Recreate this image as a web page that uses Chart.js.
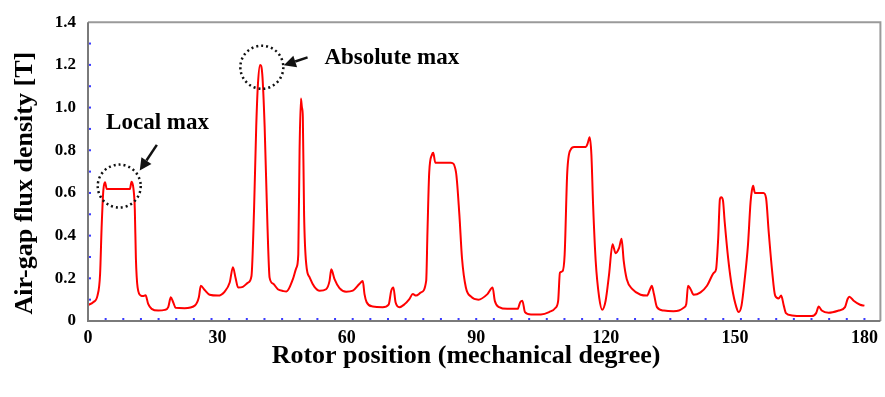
<!DOCTYPE html>
<html><head><meta charset="utf-8">
<script src="https://cdn.jsdelivr.net/npm/chart.js@4/dist/chart.umd.min.js"></script>
<style>html,body{margin:0;padding:0;background:#fff}#wrap{width:885px;height:397px;position:relative}</style>
</head><body><div id="wrap"><canvas id="c"></canvas></div>
<script>
// Rotor position (mechanical degree)
const positions = [0,1.2,2.2,2.8,3.15,3.55,3.95,4.35,9.7,10.1,10.55,10.85,11.1,11.5,12.25,12.8,13.35,13.95,14.75,16.3,17.8,18.6,19.2,19.75,20.3,22.4,24.75,25.7,26.15,27.05,28.2,30.15,31.7,32.85,33.6,34.2,34.8,35.9,37.1,37.9,38.5,39.0,39.4,39.9,40.4,40.95,41.6,42.1,42.9,44.0,45.3,46.0,47.5,48.3,48.75,49.05,49.35,49.6,49.8,50.1,50.6,51.4,52.5,53.7,55.2,56.0,56.4,57.15,58.3,59.85,61.4,62.9,63.7,64.1,64.6,66.0,68.3,69.7,70.3,70.8,71.3,72.2,73.3,74.5,75.3,76.05,77.2,78.4,78.7,79.1,79.75,80.05,80.5,84.15,85.3,86.1,86.7,87.6,88.8,90.5,92.6,93.8,94.3,95.3,97.2,99.6,100.2,100.7,101.3,102.7,105.0,106.9,108.4,109.0,109.4,110.0,110.5,111.1,111.9,112.7,115.4,115.8,116.3,116.7,117.1,117.7,118.5,119.2,120.0,120.8,121.6,122.3,123.1,123.7,124.2,124.9,126.2,128.1,129.6,130.3,130.7,131.2,131.9,133.5,135.7,137.0,138.1,138.7,139.1,139.7,140.4,142.0,143.5,145.1,145.6,146.1,146.5,146.8,147.2,147.6,148.4,149.3,150.3,150.85,151.5,152.2,153.0,153.6,153.9,154.2,154.6,156.6,157.2,157.8,158.6,159.3,160.1,160.7,161.3,161.8,163.2,165.5,167.8,168.8,169.4,170.1,171.7,174.0,175.5,176.1,176.5,177.5,179.0,180.0];
// Air-gap flux density [T]
const fluxDensity = [0.075,0.088,0.119,0.219,0.434,0.611,0.650,0.618,0.618,0.652,0.618,0.526,0.295,0.157,0.119,0.117,0.121,0.080,0.057,0.049,0.052,0.065,0.111,0.088,0.062,0.060,0.072,0.111,0.165,0.145,0.123,0.119,0.138,0.180,0.252,0.203,0.157,0.160,0.180,0.211,0.526,0.911,1.111,1.200,1.157,0.911,0.449,0.203,0.175,0.149,0.140,0.138,0.196,0.249,0.311,0.803,1.042,1.000,0.957,0.496,0.265,0.203,0.160,0.142,0.149,0.188,0.242,0.196,0.154,0.137,0.142,0.173,0.188,0.126,0.088,0.068,0.065,0.077,0.142,0.157,0.088,0.065,0.077,0.103,0.126,0.119,0.134,0.188,0.419,0.695,0.780,0.788,0.742,0.742,0.699,0.496,0.295,0.157,0.114,0.100,0.126,0.157,0.095,0.065,0.057,0.057,0.088,0.095,0.042,0.031,0.031,0.042,0.062,0.095,0.226,0.233,0.311,0.695,0.803,0.815,0.815,0.830,0.861,0.780,0.542,0.280,0.111,0.053,0.095,0.219,0.360,0.318,0.341,0.385,0.280,0.196,0.149,0.123,0.119,0.149,0.165,0.126,0.065,0.049,0.046,0.049,0.062,0.080,0.165,0.149,0.123,0.134,0.165,0.226,0.242,0.388,0.572,0.580,0.565,0.465,0.295,0.157,0.065,0.042,0.072,0.188,0.357,0.557,0.611,0.634,0.600,0.600,0.575,0.419,0.234,0.119,0.106,0.119,0.072,0.037,0.026,0.023,0.023,0.037,0.068,0.049,0.039,0.049,0.065,0.103,0.114,0.095,0.076,0.072];
const xTickLabels = [0,30,60,90,120,150,180];
const yTickLabels = [0,0.2,0.4,0.6,0.8,1.0,1.2,1.4];
const xTitle = 'Rotor position (mechanical degree)';
const yTitle = 'Air-gap flux density [T]';
const localMaxLabel = 'Local max';
const absoluteMaxLabel = 'Absolute max';

const FONT = '"Liberation Serif", "Times New Roman", serif';
const X_MAX = 183.7, Y_MAX = 1.4;
const X_MINOR_COUNT = 44, Y_MINOR_STEP = 0.1;

// annotation anchors in data coordinates
const notes = {
  circles: [{x: 7.24, y: 0.632}, {x: 40.3, y: 1.189}],
  texts: [{text: localMaxLabel, x: 4.2, y: 0.926}, {text: absoluteMaxLabel, x: 54.8, y: 1.232}],
  arrows: [{x1: 15.96, y1: 0.825, x2: 12.0, y2: 0.705}, {x1: 50.9, y1: 1.235, x2: 45.4, y2: 1.198}]
};

const decor = {
  id: 'decor',
  afterDatasetsDraw(chart) {
    const {ctx, chartArea: a, scales: {x, y}} = chart;
    ctx.save();
    // frame
    ctx.lineWidth = 2;
    ctx.strokeStyle = '#9a9a9a';
    ctx.beginPath();
    ctx.moveTo(a.left, a.top); ctx.lineTo(a.right, a.top); ctx.lineTo(a.right, a.bottom);
    ctx.stroke();
    ctx.strokeStyle = '#7a7a7a';
    ctx.beginPath();
    ctx.moveTo(a.left, a.top); ctx.lineTo(a.left, a.bottom); ctx.lineTo(a.right, a.bottom);
    ctx.stroke();
    // minor ticks (blue)
    ctx.fillStyle = '#3b3bff';
    for (let i = 1; i <= X_MINOR_COUNT; i++) {
      const px = x.getPixelForValue(i * 180 / X_MINOR_COUNT);
      ctx.fillRect(px - 1, a.bottom - 3, 2, 2);
    }
    for (let v = Y_MINOR_STEP; v < Y_MAX - 1e-6; v += Y_MINOR_STEP) {
      const py = y.getPixelForValue(v);
      ctx.fillRect(a.left + 1, py - 1, 2, 2);
    }
    // dotted circles
    ctx.strokeStyle = '#111';
    ctx.lineWidth = 2.5;
    ctx.setLineDash([2, 3]);
    notes.circles.forEach(c => {
      ctx.beginPath();
      ctx.arc(x.getPixelForValue(c.x), y.getPixelForValue(c.y), 21.5, 0, Math.PI * 2);
      ctx.stroke();
    });
    ctx.setLineDash([]);
    // arrows
    ctx.fillStyle = '#111';
    notes.arrows.forEach(ar => {
      const x1 = x.getPixelForValue(ar.x1), y1 = y.getPixelForValue(ar.y1);
      const x2 = x.getPixelForValue(ar.x2), y2 = y.getPixelForValue(ar.y2);
      const ang = Math.atan2(y2 - y1, x2 - x1);
      const hl = 12, hw = 6;
      const bx = x2 - hl * Math.cos(ang), by = y2 - hl * Math.sin(ang);
      ctx.lineWidth = 2.5;
      ctx.beginPath(); ctx.moveTo(x1, y1); ctx.lineTo(bx, by); ctx.stroke();
      ctx.beginPath();
      ctx.moveTo(x2, y2);
      ctx.lineTo(bx + hw * Math.sin(ang), by - hw * Math.cos(ang));
      ctx.lineTo(bx - hw * Math.sin(ang), by + hw * Math.cos(ang));
      ctx.closePath(); ctx.fill();
    });
    // annotation texts
    ctx.fillStyle = '#000';
    ctx.font = 'bold 23px ' + FONT;
    ctx.textAlign = 'left';
    ctx.textBaseline = 'middle';
    notes.texts.forEach(t => ctx.fillText(t.text, x.getPixelForValue(t.x), y.getPixelForValue(t.y)));
    // axis titles
    ctx.font = 'bold 26px ' + FONT;
    ctx.textAlign = 'center';
    ctx.fillText(xTitle, a.left + 378, a.bottom + 35);
    ctx.translate(a.left - 63, a.top + 161);
    ctx.rotate(-Math.PI / 2);
    ctx.fillText(yTitle, 0, 0);
    ctx.restore();
  }
};

new Chart(document.getElementById('c'), {
  type: 'line',
  data: {
    datasets: [{
      data: positions.map((p, i) => ({x: p, y: fluxDensity[i]})),
      borderColor: '#ff0000',
      borderWidth: 2,
      pointRadius: 0,
      cubicInterpolationMode: 'monotone',
      fill: false
    }]
  },
  options: {
    responsive: true,
    maintainAspectRatio: false,
    animation: false,
    devicePixelRatio: 1,
    layout: {padding: {top: 17, right: 3, left: 0, bottom: 0}},
    plugins: {legend: {display: false}, tooltip: {enabled: false}},
    scales: {
      x: {
        type: 'linear', min: 0, max: X_MAX,
        afterBuildTicks: s => { s.ticks = xTickLabels.map(v => ({value: v})); },
        afterFit: s => { s.height = 76; },
        grid: {display: false, drawTicks: false},
        border: {display: false},
        ticks: {color: '#000', padding: 7, maxRotation: 0, autoSkip: false,
          font: {family: FONT, size: 18, weight: 'bold'}},
        title: {display: false}
      },
      y: {
        type: 'linear', min: 0, max: Y_MAX,
        afterBuildTicks: s => { s.ticks = yTickLabels.map(v => ({value: v})); },
        afterFit: s => { s.width = 88; },
        grid: {display: false, drawTicks: false},
        border: {display: false},
        ticks: {color: '#000', padding: 12, autoSkip: false,
          font: {family: FONT, size: 17, weight: 'bold'},
          callback: v => v === 0 ? '0' : Number(v).toFixed(1)},
        title: {display: false}
      }
    }
  },
  plugins: [decor]
});
</script>
</body></html>
